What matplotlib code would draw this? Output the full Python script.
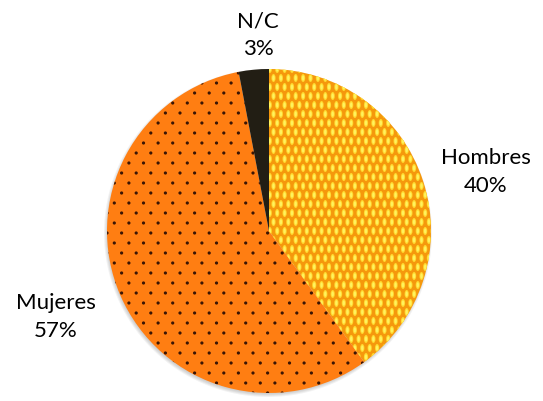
import numpy as np
import matplotlib.pyplot as plt
from matplotlib.collections import EllipseCollection
from matplotlib.patches import Circle

# Datos del grafico
categorias = ['Hombres', 'Mujeres', 'N/C']
porcentajes = [40, 57, 3]
etiquetas = ['Hombres\n40%', 'Mujeres\n57%', 'N/C\n3%']

W, H = 543, 401
fig = plt.figure(figsize=(W / 100, H / 100), dpi=100)
ax = fig.add_axes([0, 0, 1, 1])

cx, cy, r = 269, H - 231, 162

# Sombra suave
for k, a in enumerate([0.05, 0.05, 0.05, 0.04]):
    ax.add_patch(Circle((cx - 1, cy - 2), r + 2 - k, color='black', alpha=a, lw=0, zorder=0))

colores = ['#F5980C', '#FF7E12', '#221E14']
wedges, _ = ax.pie(porcentajes, colors=colores, startangle=90, counterclock=False,
                   center=(cx, cy), radius=r, frame=True,
                   wedgeprops=dict(linewidth=0))
ax.set_xlim(0, W)
ax.set_ylim(0, H)
ax.set_aspect('equal')
ax.axis('off')


def patron(ancho, alto, dx, dy, color, wedge):
    xs = np.arange(cx - r, cx + r + dx, dx)
    ys = np.arange(cy - r, cy + r + dy, dy)
    gx, gy = np.meshgrid(xs, ys)
    gx = gx + (np.arange(len(ys))[:, None] % 2) * dx / 2
    off = np.column_stack([gx.ravel(), gy.ravel()])
    n = len(off)
    col = EllipseCollection(np.full(n, ancho), np.full(n, alto), np.zeros(n), units='xy',
                            offsets=off, offset_transform=ax.transData,
                            facecolors=color, edgecolors='none', zorder=3)
    ax.add_collection(col)
    col.set_clip_path(wedge)


# Ovalos amarillos (Hombres)
patron(4.2, 8.0, 7.4, 9.0, '#FFD82E', wedges[0])
patron(2.4, 5.2, 7.4, 9.0, '#FFF25E', wedges[0])

# Puntos oscuros (Mujeres)
patron(3.2, 3.2, 14.6, 10.0, '#3A1505', wedges[1])

# Etiquetas
fuente = dict(fontsize=16, family=['Lato', 'DejaVu Sans'], color='black',
              ha='center', va='center', linespacing=1.5)
ax.text(486, H - 172, etiquetas[0], **fuente)
ax.text(56, H - 317, etiquetas[1], **fuente)
ax.text(258, H - 35, etiquetas[2], **fuente)

fig.savefig('out.png', dpi=100)
